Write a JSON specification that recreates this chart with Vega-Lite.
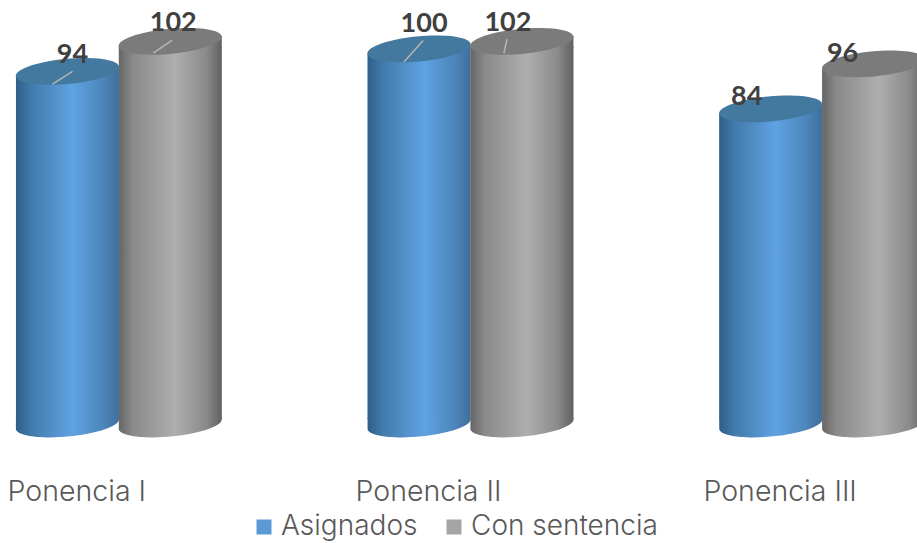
{"$schema":"https://vega.github.io/schema/vega-lite/v6.json","width":917,"height":424,"autosize":{"type":"none"},"padding":{"left":0,"top":0,"right":0,"bottom":119},"background":"white","config":{"view":{"stroke":null}},
"data":{"values":[
{"ponencia":"Ponencia I","serie":"Asignados","valor":94,"base":0},
{"ponencia":"Ponencia I","serie":"Con sentencia","valor":102,"base":0},
{"ponencia":"Ponencia II","serie":"Asignados","valor":100,"base":0},
{"ponencia":"Ponencia II","serie":"Con sentencia","valor":102,"base":0},
{"ponencia":"Ponencia III","serie":"Asignados","valor":84,"base":0},
{"ponencia":"Ponencia III","serie":"Con sentencia","valor":96,"base":0}]},
"encoding":{
"x":{"field":"ponencia","type":"nominal","title":null,"sort":null,"scale":{"domain":["Ponencia I","Ponencia II","Ponencia III"],"range":[-57,998],"paddingInner":0.415,"paddingOuter":0.2075},"axis":{"domain":false,"ticks":false,"labelAngle":0,"labelOffset":-42,"labelPadding":53,"labelFont":"Inter","labelFontWeight":300,"labelFontSize":28.5,"labelColor":"#595959","labelBound":false,"labelFlush":false,"labelOverlap":false,"grid":false}},
"xOffset":{"field":"serie","type":"nominal","scale":{"domain":["Asignados","Con sentencia"]}},
"y":{"field":"valor","type":"quantitative","axis":null,"scale":{"domain":[0,113],"nice":false,"zero":true}}},
"layer":[
{"mark":{"type":"bar","yOffset":5,"y2Offset":-5},"encoding":{"y2":{"field":"base"},"color":{"field":"serie","type":"nominal","scale":{"domain":["Asignados","Con sentencia"],"range":["#5B9BD5","#A5A5A5"]},"legend":{"title":null,"orient":"none","legendX":250,"legendY":513,"direction":"horizontal","symbolType":"square","symbolSize":225,"symbolStrokeWidth":0,"labelFont":"Inter","labelFontWeight":300,"labelFontSize":28,"labelColor":"#595959","columnPadding":22,"labelOffset":3,"labelLimit":300}}}},

{"transform":[{"filter":"datum.serie==='Asignados'"}],"layer":[
{"mark":{"type":"point","filled":true,"strokeWidth":0,"opacity":1,"size":10609,"shape":"M1,-.1C1.028,.033,.602,.185,.05,.24C-.502,.295,-.972,.233,-1,.1L-1,-.12L1,-.12Z","fill":{"gradient":"linear","x1":0,"x2":1,"y1":0,"y2":0,"stops":[{"offset":0,"color":"#2e5e88"},{"offset":0.14,"color":"#4279ab"},{"offset":0.55,"color":"#5fa3e3"},{"offset":0.85,"color":"#4c85b9"},{"offset":1,"color":"#3d6f9c"}]}},"encoding":{"y":{"field":"base","type":"quantitative"}}},
{"mark":{"type":"bar","yOffset":5,"y2Offset":-5,"fill":{"gradient":"linear","x1":0,"x2":1,"y1":0,"y2":0,"stops":[{"offset":0,"color":"#2e5e88"},{"offset":0.14,"color":"#4279ab"},{"offset":0.55,"color":"#5fa3e3"},{"offset":0.85,"color":"#4c85b9"},{"offset":1,"color":"#3d6f9c"}]}},"encoding":{"y2":{"field":"base"}}},
{"mark":{"type":"point","filled":true,"strokeWidth":0,"opacity":1,"size":10609,"shape":"M-1,.1L1,-.1L1,.12L-1,.12Z","fill":{"gradient":"linear","x1":0,"x2":1,"y1":0,"y2":0,"stops":[{"offset":0,"color":"#2e5e88"},{"offset":0.14,"color":"#4279ab"},{"offset":0.55,"color":"#5fa3e3"},{"offset":0.85,"color":"#4c85b9"},{"offset":1,"color":"#3d6f9c"}]}}},
{"mark":{"type":"point","filled":true,"strokeWidth":0,"opacity":1,"size":10609,"color":"#43789f","shape":"M1,-.1C1.028,.033,.602,.185,.05,.24C-.502,.295,-.972,.233,-1,.1C-1.028,-.033,-.602,-.185,-.05,-.24C.502,-.295,.972,-.233,1,-.1Z"}}
]},

{"transform":[{"filter":"datum.serie==='Con sentencia'"}],"layer":[
{"mark":{"type":"point","filled":true,"strokeWidth":0,"opacity":1,"size":10609,"shape":"M1,-.1C1.028,.033,.602,.185,.05,.24C-.502,.295,-.972,.233,-1,.1L-1,-.12L1,-.12Z","fill":{"gradient":"linear","x1":0,"x2":1,"y1":0,"y2":0,"stops":[{"offset":0,"color":"#666666"},{"offset":0.14,"color":"#8a8a8a"},{"offset":0.55,"color":"#aeaeae"},{"offset":0.85,"color":"#8a8a8a"},{"offset":1,"color":"#606060"}]}},"encoding":{"y":{"field":"base","type":"quantitative"}}},
{"mark":{"type":"bar","yOffset":5,"y2Offset":-5,"fill":{"gradient":"linear","x1":0,"x2":1,"y1":0,"y2":0,"stops":[{"offset":0,"color":"#666666"},{"offset":0.14,"color":"#8a8a8a"},{"offset":0.55,"color":"#aeaeae"},{"offset":0.85,"color":"#8a8a8a"},{"offset":1,"color":"#606060"}]}},"encoding":{"y2":{"field":"base"}}},
{"mark":{"type":"point","filled":true,"strokeWidth":0,"opacity":1,"size":10609,"shape":"M-1,.1L1,-.1L1,.12L-1,.12Z","fill":{"gradient":"linear","x1":0,"x2":1,"y1":0,"y2":0,"stops":[{"offset":0,"color":"#666666"},{"offset":0.14,"color":"#8a8a8a"},{"offset":0.55,"color":"#aeaeae"},{"offset":0.85,"color":"#8a8a8a"},{"offset":1,"color":"#606060"}]}}},
{"mark":{"type":"point","filled":true,"strokeWidth":0,"opacity":1,"size":10609,"color":"#7b7b7b","shape":"M1,-.1C1.028,.033,.602,.185,.05,.24C-.502,.295,-.972,.233,-1,.1C-1.028,-.033,-.602,-.185,-.05,-.24C.502,-.295,.972,-.233,1,-.1Z"}}
]},

{"transform":[{"filter":"datum.ponencia==='Ponencia I'&&datum.serie==='Asignados'"}],"layer":[
{"mark":{"type":"point","filled":false,"opacity":1,"size":10609,"color":"#b5b5b5","strokeWidth":1.5,"shape":"M-.29,.25L.1,0"}},
{"mark":{"type":"text","font":"Lato","fontWeight":"bold","fontSize":27,"color":"#404040","dx":5,"dy":-16},"encoding":{"text":{"field":"valor","type":"quantitative"}}}]},
{"transform":[{"filter":"datum.ponencia==='Ponencia I'&&datum.serie==='Con sentencia'"}],"layer":[
{"mark":{"type":"point","filled":false,"opacity":1,"size":10609,"color":"#b5b5b5","strokeWidth":1.5,"shape":"M-.33,.23L.04,-.02"}},
{"mark":{"type":"text","font":"Lato","fontWeight":"bold","fontSize":27,"color":"#404040","dx":3,"dy":-18},"encoding":{"text":{"field":"valor","type":"quantitative"}}}]},
{"transform":[{"filter":"datum.ponencia==='Ponencia II'&&datum.serie==='Asignados'"}],"layer":[
{"mark":{"type":"point","filled":false,"opacity":1,"size":10609,"color":"#b5b5b5","strokeWidth":1.5,"shape":"M-.29,.25L.08,-.16"}},
{"mark":{"type":"text","font":"Lato","fontWeight":"bold","fontSize":27,"color":"#404040","dx":5,"dy":-25},"encoding":{"text":{"field":"valor","type":"quantitative"}}}]},
{"transform":[{"filter":"datum.ponencia==='Ponencia II'&&datum.serie==='Con sentencia'"}],"layer":[
{"mark":{"type":"point","filled":false,"opacity":1,"size":10609,"color":"#b5b5b5","strokeWidth":1.5,"shape":"M-.35,.23L-.29,-.04"}},
{"mark":{"type":"text","font":"Lato","fontWeight":"bold","fontSize":27,"color":"#404040","dx":-14,"dy":-18},"encoding":{"text":{"field":"valor","type":"quantitative"}}}]},
{"transform":[{"filter":"datum.ponencia==='Ponencia III'&&datum.serie==='Asignados'"}],"mark":{"type":"text","font":"Lato","fontWeight":"bold","fontSize":27,"color":"#404040","dx":-24,"dy":-12},"encoding":{"text":{"field":"valor","type":"quantitative"}}},
{"transform":[{"filter":"datum.ponencia==='Ponencia III'&&datum.serie==='Con sentencia'"}],"mark":{"type":"text","font":"Lato","fontWeight":"bold","fontSize":27,"color":"#404040","dx":-31,"dy":-10},"encoding":{"text":{"field":"valor","type":"quantitative"}}}
]}
